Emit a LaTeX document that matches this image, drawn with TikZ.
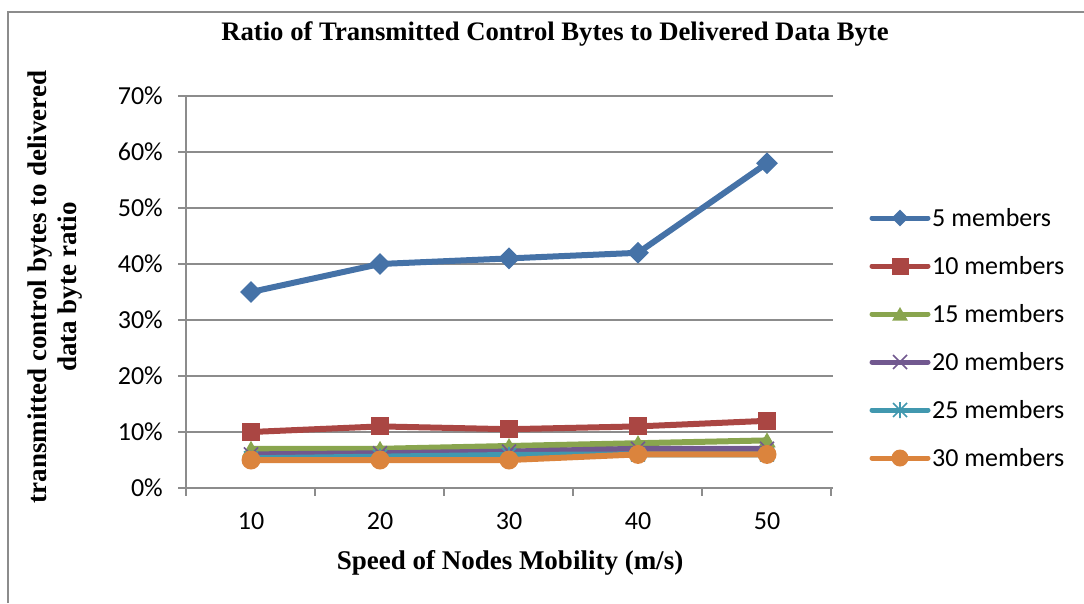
\documentclass[tikz,border=0pt]{standalone}
\usepackage{fontspec}
\setmainfont{Liberation Serif}
\newfontfamily\calib{Carlito}
\usetikzlibrary{shapes.geometric}
\definecolor{sA}{HTML}{4572A7}
\definecolor{sB}{HTML}{AA4643}
\definecolor{sC}{HTML}{89A54E}
\definecolor{sD}{HTML}{71588F}
\definecolor{sE}{HTML}{4198AF}
\definecolor{sF}{HTML}{DB843D}
\definecolor{gridc}{HTML}{8C8C8C}
\begin{document}
\begin{tikzpicture}[x=1pt,y=-1pt,
  gridline/.style={draw=gridc,line width=1.8},
  frameline/.style={draw=gridc,line width=2},
  serline/.style={line width=6,line join=round,line cap=round},
  legline/.style={line width=5,line cap=round},
  ticklbl/.style={font=\calib\fontsize{26}{30}\selectfont,inner sep=0},
  legtext/.style={font=\calib\fontsize{26}{30}\selectfont,anchor=west,inner sep=0},
  bigtitle/.style={font=\bfseries\fontsize{27}{30}\selectfont,inner sep=0},
  mkdia/.style={diamond,fill=sA,inner sep=0,minimum width=#1,minimum height=#1},
  mksq/.style={rectangle,fill=sB,inner sep=0,minimum size=#1},
  mktri/.style={regular polygon,regular polygon sides=3,fill=sC,inner sep=0,minimum size=#1},
  mkcirc/.style={circle,fill=sF,inner sep=0,minimum size=#1},
  pics/xmk/.style={code={\draw[sD,line width=1.6] (-7,-7)--(7,7) (-7,7)--(7,-7);}},
  pics/astmk/.style={code={\draw[sE,line width=1.6] (-7,-7)--(7,7) (-7,7)--(7,-7) (0,-8)--(0,8);}}
]
\useasboundingbox (0,0) rectangle (1084,603);
% outer frame (cropped)
\draw[frameline] (8,603) -- (8,12) -- (1084,12);
% title
\node[bigtitle,font=\bfseries\fontsize{26.7}{30}\selectfont] (title) at (555,34) {Ratio of Transmitted Control Bytes to Delivered Data Byte};
% gridlines and axes
\foreach \k in {1,...,7} \draw[gridline] (186,{488-56*\k}) -- (833,{488-56*\k});
\foreach \k in {0,...,7} {
  \draw[gridline] (178,{488-56*\k}) -- (186,{488-56*\k});
  \pgfmathtruncatemacro\pc{10*\k}
  \node[ticklbl,anchor=east] (yl\k) at (163,{488-56*\k}) {\pc\%};
}
\draw[gridline] (186,96) -- (186,488);
\draw[gridline] (178,488) -- (833,488);
\foreach \j in {0,...,5} \draw[gridline] ({186+129*\j},488) -- ({186+129*\j},496);
\foreach \v [count=\i] in {10,20,30,40,50}
  \node[ticklbl] (xl\i) at ({251+129*(\i-1)},521) {\v};
% axis titles
\node[bigtitle] (xtitle) at (510,563) {Speed of Nodes Mobility (m/s)};
\node[bigtitle,rotate=90,align=center,font=\bfseries\fontsize{27}{30}\selectfont] (ytitle) at (55,287)
  {transmitted control bytes to delivered\\data byte ratio};
% series
\foreach \v [count=\i] in {35,40,41,42,58} \coordinate (a\i) at ({251+129*(\i-1)},{488-5.6*\v});
\foreach \v [count=\i] in {10,11,10.5,11,12} \coordinate (b\i) at ({251+129*(\i-1)},{488-5.6*\v});
\foreach \v [count=\i] in {7,7,7.5,8,8.5} \coordinate (c\i) at ({251+129*(\i-1)},{488-5.6*\v});
\foreach \v [count=\i] in {6,6.2,6.5,7,7} \coordinate (d\i) at ({251+129*(\i-1)},{488-5.6*\v});
\foreach \v [count=\i] in {5.3,5.6,5.9,6,6} \coordinate (e\i) at ({251+129*(\i-1)},{488-5.6*\v});
\foreach \v [count=\i] in {5,5,5,6,6} \coordinate (f\i) at ({251+129*(\i-1)},{488-5.6*\v});

\draw[serline,sA] (a1)--(a2)--(a3)--(a4)--(a5);
\foreach \i in {1,...,5} \node[mkdia=22] at (a\i) {};
\draw[serline,sB] (b1)--(b2)--(b3)--(b4)--(b5);
\foreach \i in {1,...,5} \node[mksq=18] at (b\i) {};
\draw[serline,sC] (c1)--(c2)--(c3)--(c4)--(c5);
\foreach \i in {1,...,5} \node[mktri=20] at ([yshift=-2]c\i) {};
\draw[serline,sD] (d1)--(d2)--(d3)--(d4)--(d5);
\foreach \i in {1,...,5} \pic at (d\i) {xmk};
\draw[serline,sE] (e1)--(e2)--(e3)--(e4)--(e5);
\foreach \i in {1,...,5} \pic at (e\i) {astmk};
\draw[serline,sF] (f1)--(f2)--(f3)--(f4)--(f5);
\foreach \i in {1,...,5} \node[mkcirc=19] at (f\i) {};
% legend
\foreach \c/\yy/\t [count=\n] in {sA/218/5 members,sB/266/10 members,sC/314/15 members,sD/362/20 members,sE/410/25 members,sF/458/30 members} {
  \coordinate (lg\n) at (900,\yy);
  \draw[legline,\c] (872,\yy) -- (928,\yy);
  \node[legtext] (lt\n) at (932,\yy) {\t};
}
\node[mkdia=17] at (lg1) {};
\node[mksq=17] at (lg2) {};
\node[mktri=18] at ([yshift=-2]lg3) {};
\pic at (lg4) {xmk};
\pic at (lg5) {astmk};
\node[mkcirc=17] at (lg6) {};
\end{tikzpicture}
\end{document}
